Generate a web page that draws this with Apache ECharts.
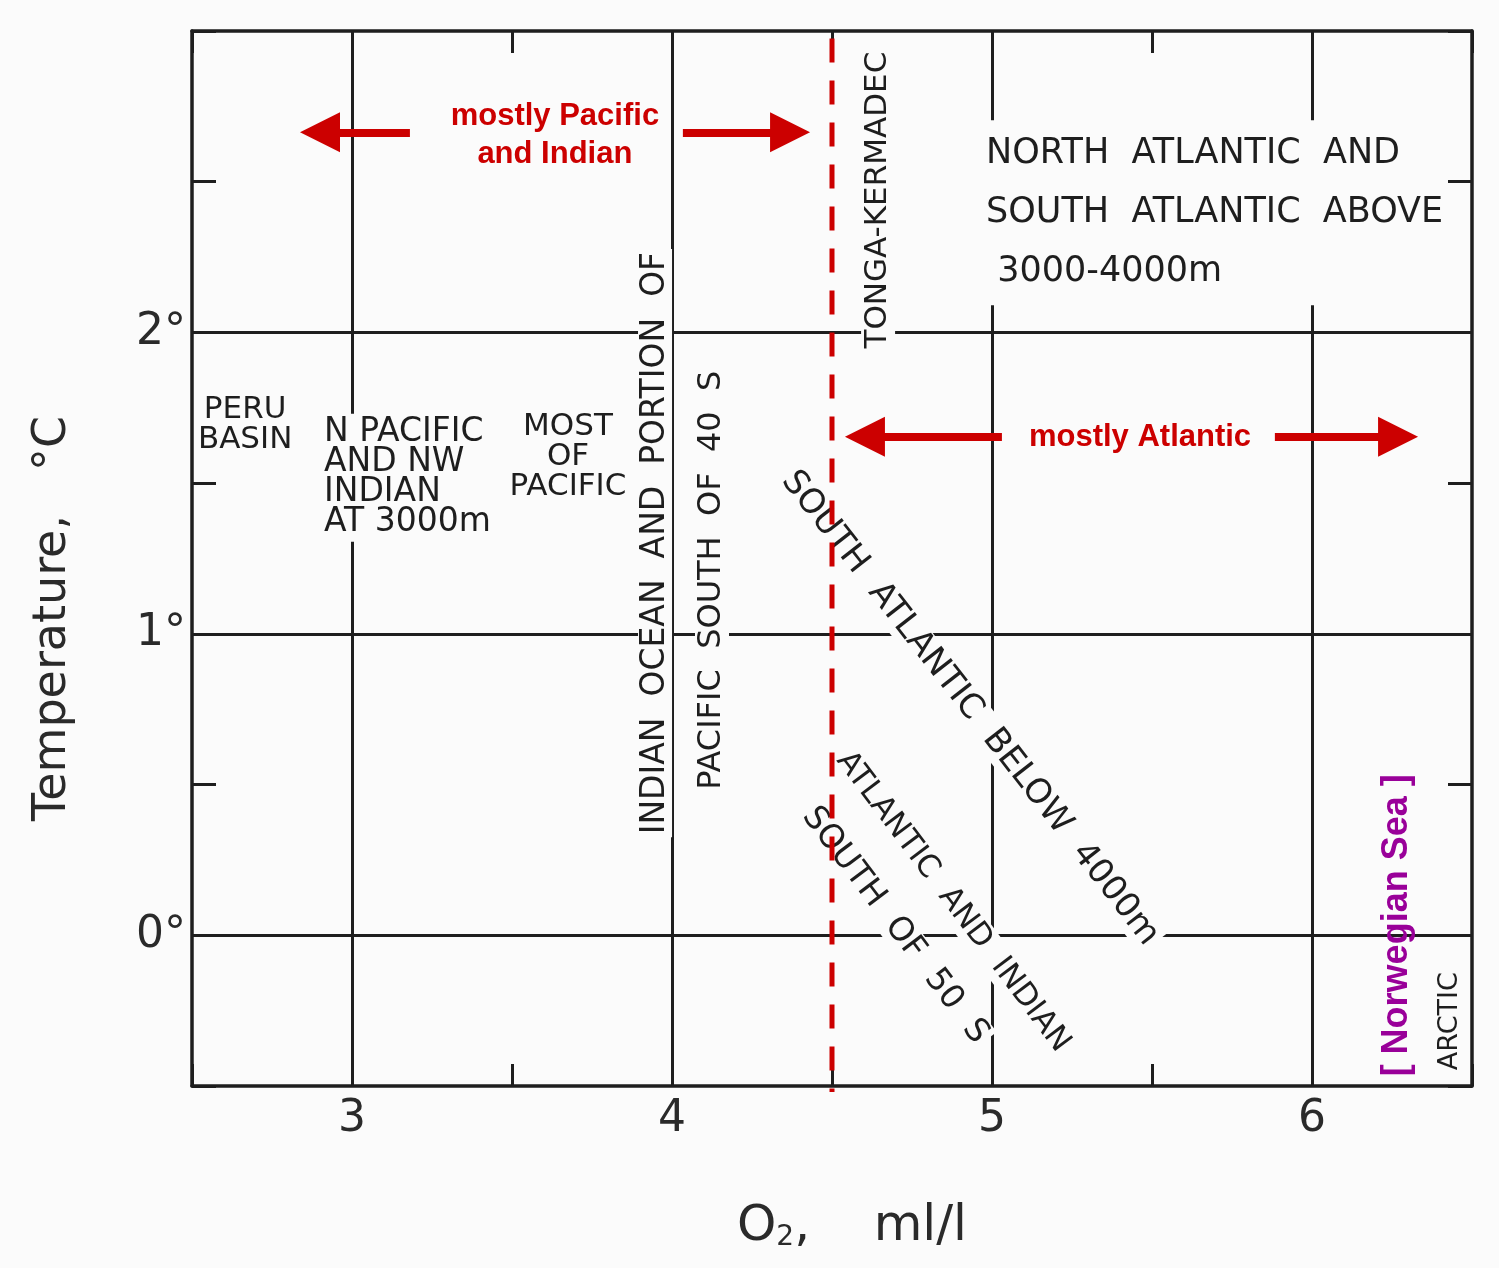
<!DOCTYPE html>
<html>
<head>
<meta charset="utf-8">
<title>Temperature vs O2</title>
<script src="https://cdn.jsdelivr.net/npm/echarts@6/dist/echarts.min.js"></script>
<style>
    html, body { margin: 0; padding: 0; background: #fbfbfb; }
    #chart { width: 1499px; height: 1268px; }
</style>
</head>
<body>
<div id="chart"></div>
<script>
    // axis ranges / grid values
    var xRange = [2.5, 6.5];
    var yRange = [-0.5, 3];
    var xGrid = [3, 4, 5, 6];
    var yGrid = [0, 1, 2];
    var boundaryO2 = 4.5;   // red dashed divider
    var dividerSpan = [2.975, -0.52];

    // black annotations: text, O2, temperature, rotation
    var notes = [
        ['PERU\nBASIN', 2.666, 1.693, 0],
        ['MOST\nOF\nPACIFIC', 3.675, 1.586, 0],
        ['INDIAN  OCEAN  AND  PORTION  OF', 3.947, 1.301, 90],
        ['PACIFIC  SOUTH  OF  40  S', 4.125, 1.178, 90],
        ['TONGA-KERMADEC', 4.644, 2.439, 90],
        ['SOUTH  ATLANTIC  BELOW  4000m', 4.931, 0.753, -52],
        ['ATLANTIC  AND  INDIAN', 4.878, 0.11, -53],
        ['SOUTH  OF  50  S', 4.697, 0.033, -53]
    ];
    var noteSizes = [31, 31, 33, 32, 31, 34, 31, 33];
    // left-aligned blocks
    var blocks = [
        ['N PACIFIC\nAND NW\nINDIAN\nAT 3000m', 2.9, 1.518],
        ['NORTH  ATLANTIC  AND\nSOUTH  ATLANTIC  ABOVE\n 3000-4000m', 4.969, 2.397]
    ];
    var arctic = ['ARCTIC', 6.431, -0.285];
    var norwegian = ['[ Norwegian Sea ]', 6.266, 0.033];

    // red overlay
    var redNotes = [
        ['mostly Pacific\nand Indian', 3.634, 2.652],
        ['mostly Atlantic', 5.4625, 1.653]
    ];
    var arrows = [
        [[3.181, 2.664], [2.9, 2.664]],
        [[4.034, 2.664], [4.369, 2.664]],
        [[5.031, 1.654], [4.603, 1.654]],
        [[5.884, 1.654], [6.269, 1.654]]
    ];

    var INK = '#1e1e1e';
    var BG = '#fbfbfb';
    var RED = '#cc0000';
    var FONT = 'DejaVu Sans';

    var chart = echarts.init(document.getElementById('chart'));

    function axisX(pos, showLabel) {
        return {
            type: 'value', position: pos,
            min: xRange[0], max: xRange[1], interval: 0.5,
            axisLine: { show: true, onZero: false, lineStyle: { color: INK, width: 3.5 } },
            axisTick: { show: true, inside: true, length: 22, lineStyle: { color: INK, width: 3 } },
            splitLine: { show: false },
            axisLabel: {
                show: showLabel, margin: 12, color: '#2a2a2a', fontSize: 44, fontFamily: FONT,
                formatter: function (v) { return v % 1 === 0 ? String(v) : ''; }
            },
            name: showLabel ? 'O{s|2},    ml/l' : '',
            nameLocation: 'middle', nameGap: 116,
            nameTextStyle: {
                color: '#2a2a2a', fontSize: 50, fontFamily: FONT, padding: [0, 0, 0, 40],
                rich: { s: { fontSize: 28, color: '#2a2a2a', fontFamily: FONT, padding: [22, 0, 0, 0] } }
            }
        };
    }

    function axisY(pos, showLabel) {
        return {
            type: 'value', position: pos,
            min: yRange[0], max: yRange[1], interval: 0.5,
            axisLine: { show: true, onZero: false, lineStyle: { color: INK, width: 3.5 } },
            axisTick: { show: true, inside: true, length: 24, lineStyle: { color: INK, width: 3 } },
            splitLine: { show: false },
            axisLabel: {
                show: showLabel, margin: 6, color: '#2a2a2a', fontSize: 44, fontFamily: FONT,
                formatter: function (v) { return (v % 1 === 0 && yGrid.indexOf(v) >= 0) ? v + '°' : ''; }
            },
            name: showLabel ? 'Temperature,   °C' : '',
            nameLocation: 'middle', nameGap: 116, nameRotate: 90,
            nameTextStyle: { color: '#2a2a2a', fontSize: 46, fontFamily: FONT, padding: [0, 120, 0, 0] }
        };
    }

    var gridMarks = xGrid.map(function (v) { return { xAxis: v }; })
        .concat(yGrid.map(function (v) { return { yAxis: v }; }));

    var noteData = notes.map(function (n, i) {
        return { value: [n[1], n[2]], label: { formatter: n[0], rotate: n[3], fontSize: noteSizes[i] } };
    });
    noteData.push({
        value: [arctic[1], arctic[2]],
        label: { formatter: arctic[0], rotate: 90, fontSize: 27, padding: [0, 2] }
    });

    var blockData = blocks.map(function (b, i) {
        return {
            value: [b[1], b[2]],
            label: i === 1 ? { formatter: b[0], fontSize: 35, lineHeight: 59 } : { formatter: b[0], fontSize: 33 }
        };
    });

    chart.setOption({
        backgroundColor: BG,
        animation: false,
        grid: { left: 192, right: 27, top: 31, bottom: 182 },
        xAxis: [axisX('bottom', true), axisX('top', false)],
        yAxis: [axisY('left', true), axisY('right', false)],
        series: [
            {
                type: 'scatter', data: [], z: 1, silent: true,
                markLine: {
                    silent: true, symbol: 'none', z: 1, label: { show: false },
                    lineStyle: { color: INK, width: 3, type: 'solid' },
                    data: gridMarks
                }
            },
            {
                type: 'scatter', symbolSize: 0, z: 3, silent: true,
                itemStyle: { opacity: 1 },
                label: {
                    show: true, position: 'inside', color: INK, fontFamily: FONT, fontSize: 31,
                    lineHeight: 30, backgroundColor: BG, padding: [2, 3]
                },
                data: noteData
            },
            {
                type: 'scatter', symbolSize: 0, z: 3, silent: true,
                itemStyle: { opacity: 1 },
                label: {
                    show: true, position: 'right', distance: 0, color: INK, fontFamily: FONT,
                    fontSize: 31, lineHeight: 30, backgroundColor: BG, padding: [4, 4], align: 'left'
                },
                data: blockData
            },
            {
                type: 'line', z: 4, silent: true, clip: false, showSymbol: false, symbol: 'none',
                lineStyle: { color: RED, width: 5, type: [24, 18] },
                data: [[boundaryO2, dividerSpan[0]], [boundaryO2, dividerSpan[1]]]
            },
            {
                type: 'lines', coordinateSystem: 'cartesian2d', z: 5, silent: true,
                symbol: ['none', 'triangle'], symbolSize: [42, 40],
                lineStyle: { color: RED, width: 8, opacity: 1 },
                data: arrows.map(function (a) { return { coords: a }; })
            },
            {
                type: 'scatter', symbolSize: 0, z: 5, silent: true,
                itemStyle: { opacity: 1 },
                label: {
                    show: true, position: 'inside', color: RED, fontFamily: 'Liberation Sans',
                    fontWeight: 'bold', fontSize: 31, lineHeight: 38
                },
                data: redNotes.map(function (r) { return { value: [r[1], r[2]], label: { formatter: r[0] } }; })
                    .concat([{
                        value: [norwegian[1], norwegian[2]],
                        label: { formatter: norwegian[0], rotate: 90, color: '#990099', fontSize: 36 }
                    }])
            }
        ]
    });
</script>
</body>
</html>
